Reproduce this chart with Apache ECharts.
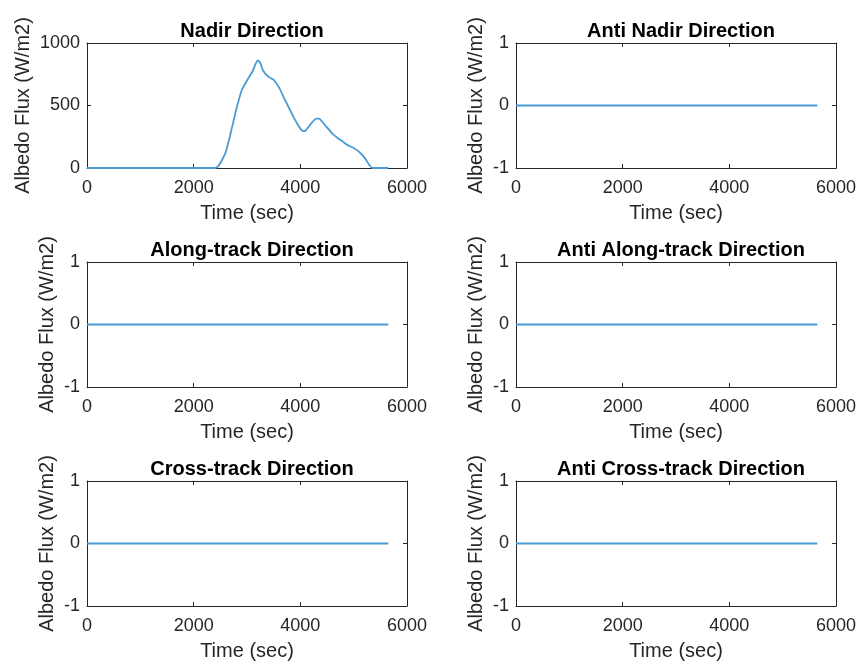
<!DOCTYPE html>
<html>
<head>
<meta charset="utf-8">
<script src="https://cdn.jsdelivr.net/npm/echarts@6/dist/echarts.min.js"></script>
<style>
  html, body { margin: 0; background: #fff; }
  #chart { width: 859px; height: 664px; }
</style>
</head>
<body>
<div id="chart"></div>
<script>
// panel titles, row by row (left, right)
const panelTitles = [
  "Nadir Direction", "Anti Nadir Direction",
  "Along-track Direction", "Anti Along-track Direction",
  "Cross-track Direction", "Anti Cross-track Direction"
];

// nadir albedo flux
const nadirTime = [0, 2400, 2450, 2500, 2600, 2700, 2800, 2900, 3000, 3100, 3200, 3250, 3300, 3400,
  3500, 3600, 3700, 3800, 3900, 4000, 4050, 4100, 4200, 4300, 4350, 4400, 4500, 4600, 4700,
  4800, 4900, 5000, 5100, 5200, 5300, 5350, 5650];
const nadirFlux = [0, 0, 10, 40, 125, 290, 470, 620, 700, 770, 860, 840, 780, 730,
  705, 645, 555, 470, 385, 315, 295, 300, 355, 395, 395, 375, 325, 275, 240,
  210, 180, 160, 130, 85, 20, 0, 0];

// the other five directions stay at zero over the whole orbit
const flatTime = [0, 5650];
const antiNadirFlux = [0, 0];
const alongTrackFlux = [0, 0];
const antiAlongTrackFlux = [0, 0];
const crossTrackFlux = [0, 0];
const antiCrossTrackFlux = [0, 0];

const xTicks = [0, 2000, 4000, 6000];
const nadirTicks = [0, 500, 1000];
const flatTicks = [-1, 0, 1];

const panelTime = [nadirTime, flatTime, flatTime, flatTime, flatTime, flatTime];
const panelFlux = [nadirFlux, antiNadirFlux, alongTrackFlux, antiAlongTrackFlux,
  crossTrackFlux, antiCrossTrackFlux];

const FONT = "'Liberation Sans', Arial, Helvetica, sans-serif";
const INK = "#262626";
const LINE = "#4a9bd3";
const colLeft = [87, 516];
const rowTop = [43, 262, 481];
const W = 320, H = 125;

const grid = [], xAxis = [], yAxis = [], series = [], title = [];
const plain = (v) => String(v);

panelTitles.forEach((name, i) => {
  const col = i % 2;
  const row = Math.floor(i / 2);
  const yTicks = i === 0 ? nadirTicks : flatTicks;

  grid.push({ left: colLeft[col], top: rowTop[row], width: W, height: H });

  title.push({
    text: name,
    left: colLeft[col] + W / 2,
    top: rowTop[row] - 27,
    textAlign: "center",
    textStyle: { fontFamily: FONT, fontSize: 20, fontWeight: "bold", color: "#000" }
  });

  const axisLine = { show: true, onZero: false, lineStyle: { color: INK, width: 1 } };
  const axisTick = { show: true, inside: true, length: 4, lineStyle: { color: INK } };
  const xRange = {
    type: "value", gridIndex: i,
    min: xTicks[0], max: xTicks[xTicks.length - 1], interval: xTicks[1] - xTicks[0],
    axisLine, axisTick, splitLine: { show: false }
  };
  const yRange = {
    type: "value", gridIndex: i,
    min: yTicks[0], max: yTicks[yTicks.length - 1], interval: yTicks[1] - yTicks[0],
    axisLine, axisTick, splitLine: { show: false }
  };

  xAxis.push({
    ...xRange, position: "bottom",
    axisLabel: { color: INK, fontFamily: FONT, fontSize: 18, margin: 11, formatter: plain },
    name: "Time (sec)", nameLocation: "middle", nameGap: 35,
    nameTextStyle: { color: INK, fontFamily: FONT, fontSize: 20 }
  });
  xAxis.push({ ...xRange, position: "top", axisLabel: { show: false } });

  yAxis.push({
    ...yRange, position: "left",
    axisLabel: { color: INK, fontFamily: FONT, fontSize: 18, margin: 7, formatter: plain },
    name: "Albedo Flux (W/m2)", nameLocation: "middle", nameGap: i === 0 ? 54 : 30,
    nameTextStyle: { color: INK, fontFamily: FONT, fontSize: 20 }
  });
  yAxis.push({ ...yRange, position: "right", axisLabel: { show: false } });

  series.push({
    type: "line",
    xAxisIndex: 2 * i,
    yAxisIndex: 2 * i,
    data: panelTime[i].map((t, k) => [t, panelFlux[i][k]]),
    showSymbol: false,
    smooth: 0.2,
    lineStyle: { color: LINE, width: 1.8 },
    animation: false
  });
});

const chart = echarts.init(document.getElementById("chart"), null, { renderer: "canvas" });
chart.setOption({
  backgroundColor: "#fff",
  animation: false,
  title, grid, xAxis, yAxis, series
});
</script>
</body>
</html>
